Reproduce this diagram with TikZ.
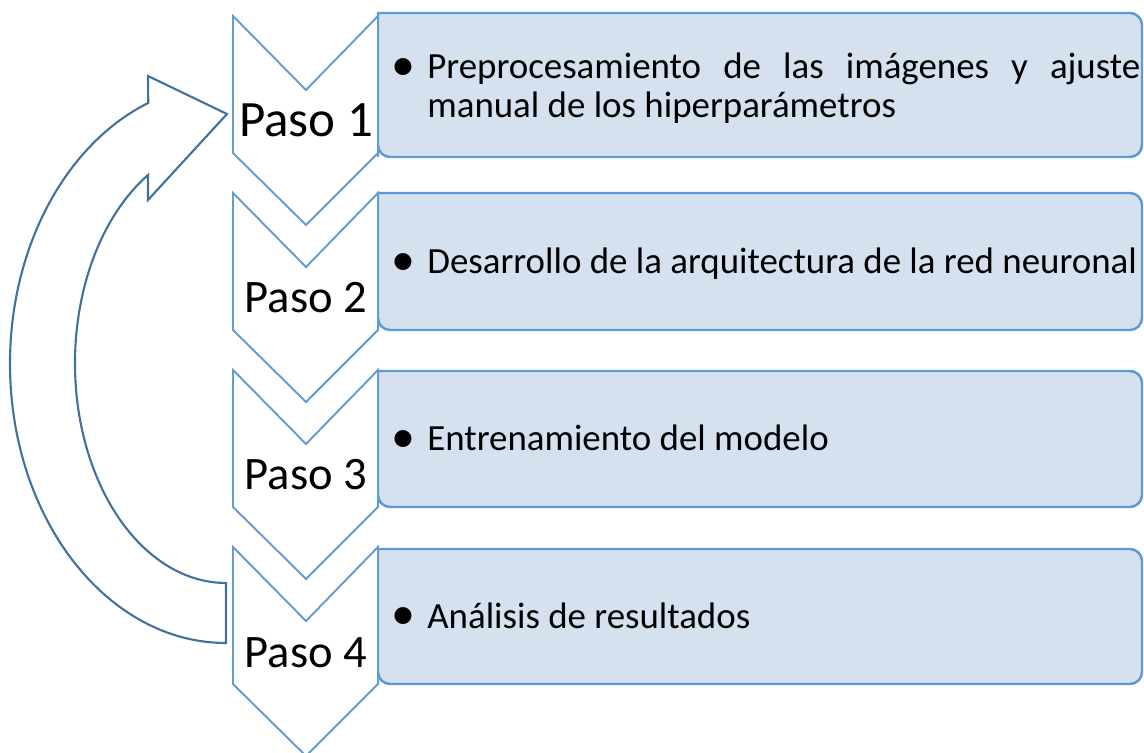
\documentclass[tikz,border=0pt]{standalone}
\usepackage{fontspec}
\setmainfont{Carlito}
\usepackage{tikz}

\definecolor{boxfill}{RGB}{214,225,240}
\definecolor{boxline}{RGB}{91,155,213}
\definecolor{chevline}{RGB}{100,156,210}
\definecolor{loopline}{RGB}{65,113,156}

\tikzset{
  chev/.style={fill=white, draw=chevline, line width=1.1pt, line join=miter},
  stepbox/.style={fill=boxfill, draw=boxline, line width=1.4pt},
  loopline/.style={fill=white, draw=loopline, line width=1.2pt},
  paso/.style={inner sep=0pt, anchor=base, font=\fontsize{26.5}{28}\selectfont},
  item/.style={inner sep=0pt, anchor=base west, font=\fontsize{21}{21.8}\selectfont}
}
\newcommand{\itembullet}{\llap{\raisebox{-0.03em}{\scalebox{1.3}{\textbullet}}\hspace{0.33em}}}

\begin{document}
\begin{tikzpicture}[x=0.02cm, y=-0.02cm]
\useasboundingbox (0,0) rectangle (1144,753);

% boxes with the descriptions
\foreach \a/\b in {13/157, 193/330, 371/507, 549/684}
  \filldraw[stepbox] (378,\b) -- (378,\a) [rounded corners=0.24cm] -- (1142,\a) -- (1142,\b) -- (378,\b) [sharp corners] -- cycle;

% chevrons
\foreach \i in {0,...,3} {
  \pgfmathsetmacro\t{16+177*\i}
  \filldraw[chev] (233,\t) -- (306,\t+74) -- (378,\t) -- (378,\t+137) -- (306,\t+209) -- (233,\t+137) -- cycle;
}

% return arrow
\filldraw[loopline] (226,643) arc[start angle=90, end angle=248.9, x radius=216, y radius=279.4]
  -- (148,76) -- (227,114) -- (148,200) -- (148,175)
  arc[start angle=238.9, end angle=90, x radius=151, y radius=219.8] -- cycle;

\node[paso, font=\fontsize{29}{30}\selectfont] (paso1) at (306,137) {Paso 1};
\node[paso] (paso2) at (306,313) {Paso 2};
\node[paso] (paso3) at (306,490) {Paso 3};
\node[paso] (paso4) at (306,667) {Paso 4};

\node[item, text width=14.26cm, align=justify] (desc1) at (427,79)
  {\itembullet Preprocesamiento de las imágenes y ajuste\linebreak manual de los hiperparámetros};
\node[item] (desc2) at (427,274) {\itembullet Desarrollo de la arquitectura de la red neuronal};
\node[item] (desc3) at (427,451) {\itembullet Entrenamiento del modelo};
\node[item] (desc4) at (427,628) {\itembullet Análisis de resultados};
\end{tikzpicture}
\end{document}
